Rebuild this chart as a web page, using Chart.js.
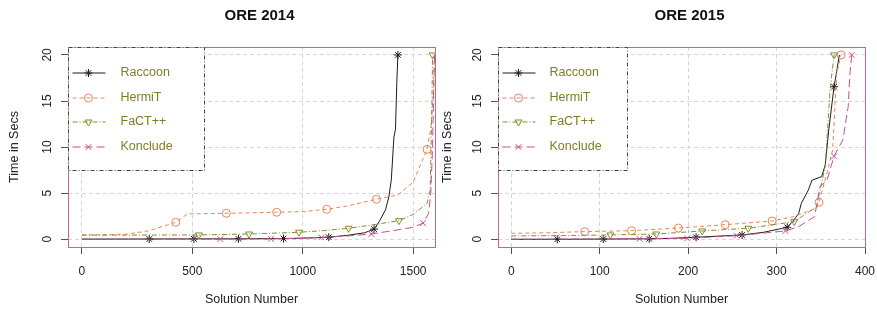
<!DOCTYPE html>
<html>
<head>
<meta charset="utf-8">
<script src="https://cdn.jsdelivr.net/npm/chart.js@4.4.0/dist/chart.umd.min.js"></script>
<style>
html, body { margin: 0; background: #fff; overflow: hidden; }
#wrap { position: relative; width: 877px; height: 309px; overflow: hidden; }
#c14 { position: absolute; left: 0; top: 0; }
#c15 { position: absolute; left: 430px; top: 0; }
</style>
</head>
<body>
<div id="wrap">
<canvas id="c14" width="440" height="309"></canvas>
<canvas id="c15" width="458" height="309"></canvas>
</div>
<script>
Chart.defaults.font.family = '"Liberation Sans", Arial, sans-serif'
Chart.defaults.color = '#222'

const names = ['Raccoon', 'HermiT', 'FaCT++', 'Konclude']
const colors = ['#1e1e1e', '#e8845c', '#8a8a2e', '#c4508c']
const dashes = [[], [4, 3], [5, 2, 1, 2], [8, 4]]
const shapes = ['star', 'circle', 'triangle', 'crossRot']
const rotations = [0, 0, 180, 0]
const yTicks = [0, 5, 10, 15, 20]

// ORE 2014
const xTicks14 = [0, 500, 1000, 1500]
const raccoon14X = [0, 150, 305, 507, 709, 913, 1000, 1118, 1200, 1280, 1323, 1346, 1375, 1390, 1401, 1413, 1420, 1426, 1431]
const raccoon14Y = [0.02, 0.02, 0.03, 0.04, 0.05, 0.08, 0.12, 0.22, 0.42, 0.7, 1.1, 1.9, 3.2, 4.6, 6.4, 11.1, 11.9, 17, 20]
const raccoon14Marks = [2, 3, 4, 5, 7, 10, 18]
const hermit14X = [0, 100, 200, 300, 425, 478, 654, 882, 1000, 1109, 1200, 1334, 1430, 1500, 1563, 1580, 1593, 1596]
const hermit14Y = [0.47, 0.48, 0.55, 0.9, 1.84, 2.75, 2.82, 2.93, 3.0, 3.25, 3.6, 4.34, 4.8, 6.2, 9.76, 12, 16.2, 20]
const hermit14Marks = [4, 6, 7, 9, 11, 14]
const fact14X = [0, 200, 400, 530, 757, 983, 1100, 1208, 1300, 1436, 1500, 1563, 1577, 1585, 1588]
const fact14Y = [0.45, 0.45, 0.46, 0.47, 0.57, 0.76, 0.95, 1.19, 1.5, 2.02, 2.7, 3.9, 5.3, 14.4, 20]
const fact14Marks = [3, 4, 5, 7, 9, 14]
const kon14X = [0, 300, 627, 856, 1000, 1084, 1200, 1311, 1400, 1500, 1545, 1570, 1580, 1588, 1593, 1597]
const kon14Y = [0.0, 0.01, 0.02, 0.04, 0.1, 0.2, 0.35, 0.57, 0.9, 1.3, 1.75, 2.8, 5, 10, 16, 20]
const kon14Marks = [2, 3, 5, 7, 10]

// ORE 2015
const xTicks15 = [0, 100, 200, 300, 400]
const raccoon15X = [0, 52, 104, 156, 180, 209, 261, 285, 312, 318, 325, 328, 336, 340, 351, 355, 359, 365, 368, 371]
const raccoon15Y = [0.0, 0.0, 0.02, 0.05, 0.1, 0.22, 0.47, 0.75, 1.3, 1.9, 2.8, 3.9, 5.35, 6.4, 6.8, 8.05, 11.85, 16.55, 18.2, 20]
const raccoon15Marks = [1, 2, 3, 5, 6, 8, 17]
const hermit15X = [0, 40, 83, 136, 189, 242, 295, 319, 345, 348, 357, 363.5, 366, 368, 373]
const hermit15Y = [0.65, 0.7, 0.83, 0.93, 1.22, 1.58, 1.98, 2.45, 3.36, 4.0, 7.2, 9.7, 14.4, 18, 20]
const hermit15Marks = [2, 3, 4, 5, 6, 9, 14]
const fact15X = [0, 60, 112, 164, 216, 268, 320, 345, 355, 360.5, 365]
const fact15Y = [0.36, 0.4, 0.47, 0.57, 0.9, 1.19, 1.91, 3.5, 7.9, 16.2, 20]
const fact15Marks = [2, 3, 4, 5, 6, 10]
const kon15X = [0, 80, 145, 199, 255, 310, 325, 343, 349, 357, 365, 375, 381, 383, 385]
const kon15Y = [0.0, 0.02, 0.05, 0.1, 0.39, 0.9, 1.37, 2.45, 5.7, 6.4, 9.0, 10.8, 14.4, 18, 20]
const kon15Marks = [2, 3, 4, 5, 10, 14]

function makeDatasets(xs, ys, marks) {
    return xs.map((x, k) => ({
        label: names[k],
        data: x.map((v, i) => ({x: v, y: ys[k][i]})),
        showLine: true,
        tension: 0,
        borderColor: colors[k],
        borderWidth: 1,
        borderDash: dashes[k],
        backgroundColor: 'rgba(0,0,0,0)',
        pointStyle: shapes[k],
        pointRotation: rotations[k],
        pointRadius: ctx => marks[k].includes(ctx.dataIndex) ? 4 : 0,
        pointHoverRadius: 0,
        pointBorderColor: colors[k],
        pointBackgroundColor: 'rgba(0,0,0,0)',
        pointBorderWidth: 1,
        order: 4 - k
    }))
}

const framePlugin = {
    id: 'frame',
    afterDraw(chart) {
        const o = chart.options.plugins.frame
        const ctx = chart.ctx
        const a = chart.chartArea
        const l = Math.round(a.left) + 0.5, t = Math.round(a.top) + 0.5
        const r = Math.round(a.right) + 0.5, b = Math.round(a.bottom) + 0.5
        ctx.save()
        // plot box
        ctx.strokeStyle = '#c0689a'
        ctx.lineWidth = 1
        ctx.setLineDash([])
        ctx.strokeRect(l, t, r - l, b - t)
        // legend
        ctx.fillStyle = '#fff'
        ctx.fillRect(l, t, o.legendW, 123)
        ctx.strokeStyle = '#444'
        ctx.setLineDash([4, 2, 1, 2])
        ctx.strokeRect(l, t, o.legendW, 123)
        chart.data.datasets.forEach((ds, i) => {
            const y = Math.round(t + 25.5 + i * 24.7)
            ctx.setLineDash(ds.borderDash)
            ctx.strokeStyle = ds.borderColor
            ctx.beginPath()
            ctx.moveTo(l + 4, y)
            ctx.lineTo(l + 37, y)
            ctx.stroke()
            ctx.setLineDash([])
            ctx.fillStyle = 'rgba(0,0,0,0)'
            Chart.helpers.drawPoint(ctx, {pointStyle: ds.pointStyle, rotation: ds.pointRotation, radius: 4, borderWidth: 1}, l + 20, y)
            ctx.fillStyle = '#7d7d23'
            ctx.font = '12.5px "Liberation Sans", Arial, sans-serif'
            ctx.textBaseline = 'middle'
            ctx.textAlign = 'left'
            ctx.fillText(ds.label, l + o.textX, y)
        })
        // title
        ctx.fillStyle = '#111'
        ctx.font = 'bold 15px "Liberation Sans", Arial, sans-serif'
        ctx.textAlign = 'center'
        ctx.textBaseline = 'middle'
        ctx.fillText(o.title, (a.left + a.right) / 2 + 8, 16)
        ctx.restore()
    }
}

function makeChart(id, title, xs, ys, marks, xMin, xMax, xTicks, rightPad, legendW, textX, yTitlePad) {
    return new Chart(document.getElementById(id), {
        type: 'scatter',
        data: {datasets: makeDatasets(xs, ys, marks)},
        plugins: [framePlugin],
        options: {
            responsive: false,
            animation: false,
            events: [],
            layout: {padding: {top: 47, right: rightPad, bottom: 0, left: 0}},
            plugins: {
                legend: {display: false},
                tooltip: {enabled: false},
                frame: {title: title, legendW: legendW, textX: textX}
            },
            scales: {
                x: {
                    type: 'linear',
                    min: xMin,
                    max: xMax,
                    afterBuildTicks: s => { s.ticks = xTicks.map(v => ({value: v})) },
                    afterFit: s => { s.height = 62 },
                    grid: {color: '#d6d6d6', tickColor: '#555', tickLength: 7, tickBorderDash: []},
                    border: {display: false, dash: [4, 3]},
                    ticks: {font: {size: 12}, color: '#222', padding: 10, maxRotation: 0, autoSkip: false, callback: v => String(v)},
                    title: {display: true, text: 'Solution Number', font: {size: 12.5}, color: '#222', padding: {top: 0, bottom: 2}}
                },
                y: {
                    type: 'linear',
                    min: -0.84,
                    max: 20.86,
                    afterBuildTicks: s => { s.ticks = yTicks.map(v => ({value: v})) },
                    afterFit: s => { s.width = 68 },
                    grid: {color: '#d6d6d6', tickColor: '#555', tickLength: 7, tickBorderDash: []},
                    border: {display: false, dash: [4, 3]},
                    ticks: {font: {size: 12}, color: '#222', padding: 7, minRotation: 90, maxRotation: 90, crossAlign: 'center', callback: v => String(v)},
                    title: {display: true, text: 'Time in Secs', font: {size: 12.5}, color: '#222', padding: {top: yTitlePad, bottom: 0}}
                }
            }
        }
    })
}

makeChart('c14', 'ORE 2014',
    [raccoon14X, hermit14X, fact14X, kon14X],
    [raccoon14Y, hermit14Y, fact14Y, kon14Y],
    [raccoon14Marks, hermit14Marks, fact14Marks, kon14Marks],
    -63, 1599, xTicks14, 2, 136, 52, 7.5)

makeChart('c15', 'ORE 2015',
    [raccoon15X, hermit15X, fact15X, kon15X],
    [raccoon15Y, hermit15Y, fact15Y, kon15Y],
    [raccoon15Marks, hermit15Marks, fact15Marks, kon15Marks],
    -15, 400, xTicks15, 23, 129, 51, 10)
</script>
</body>
</html>
